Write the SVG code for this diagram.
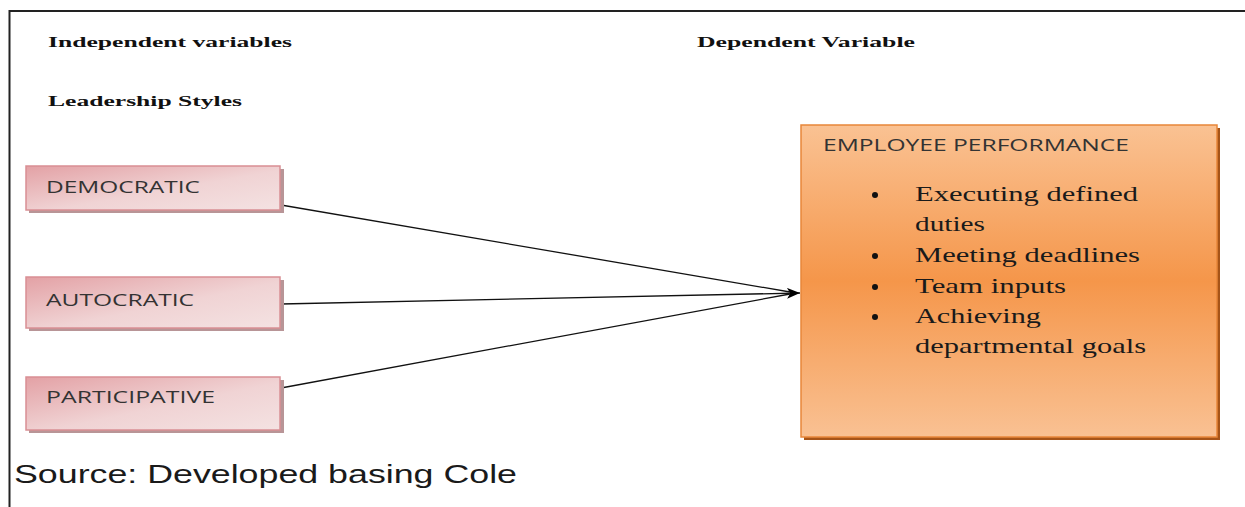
<svg xmlns="http://www.w3.org/2000/svg" width="1245" height="507" viewBox="0 0 1245 507">
<defs>
<linearGradient id="pink" x1="0" y1="0" x2="1" y2="1">
<stop offset="0" stop-color="#e3a1a5"/>
<stop offset="0.55" stop-color="#f0d3d4"/>
<stop offset="1" stop-color="#f4e2e2"/>
</linearGradient>
<linearGradient id="orange" x1="0" y1="0" x2="0" y2="1">
<stop offset="0" stop-color="#fac293"/>
<stop offset="0.5" stop-color="#f5964a"/>
<stop offset="1" stop-color="#f9c193"/>
</linearGradient>
<marker id="arr" viewBox="0 0 12 10" refX="12" refY="5" markerWidth="13" markerHeight="11" markerUnits="userSpaceOnUse" orient="auto">
<path d="M0,0 L12,5 L0,10 L3,5 z" fill="#000"/>
</marker>
<style>
.hdr{font-family:"Liberation Serif","DejaVu Serif",serif;font-weight:bold;font-size:15px;fill:#111}
.lbl{font-family:"Open Sans","Liberation Sans",sans-serif;font-size:17px;fill:#333}
.pink{fill:url(#pink);stroke:#d98f94;stroke-width:1.5}
.pshadow{fill:#b89597}
.item{font-family:"Liberation Serif","DejaVu Serif",serif;font-size:21px;fill:#1a1a1a}
.conn{stroke:#111;stroke-width:1.3;fill:none}
</style>
</defs>
<rect width="1245" height="507" fill="#fff"/>
<path d="M9.5,507 V11 H1245" fill="none" stroke="#222" stroke-width="2"/>
<text class="hdr" x="48" y="47" textLength="244" lengthAdjust="spacingAndGlyphs">Independent variables</text>
<text class="hdr" x="48" y="106" textLength="194" lengthAdjust="spacingAndGlyphs">Leadership Styles</text>
<text class="hdr" x="697" y="47" textLength="218" lengthAdjust="spacingAndGlyphs">Dependent Variable</text>
<g id="connectors">
<line class="conn" x1="281" y1="205" x2="790" y2="292"/>
<line class="conn" x1="281" y1="304" x2="800" y2="293" marker-end="url(#arr)"/>
<line class="conn" x1="281" y1="388" x2="790" y2="294"/>
</g>
<g id="democratic">
<rect class="pshadow" x="29" y="169" width="255" height="44"/>
<rect class="pink" x="26" y="166" width="254" height="44"/>
<text class="lbl" x="46" y="193" textLength="154" lengthAdjust="spacingAndGlyphs">DEMOCRATIC</text>
</g>
<g id="autocratic">
<rect class="pshadow" x="29" y="280" width="255" height="51"/>
<rect class="pink" x="26" y="277" width="254" height="51"/>
<text class="lbl" x="46" y="306" textLength="148" lengthAdjust="spacingAndGlyphs">AUTOCRATIC</text>
</g>
<g id="participative">
<rect class="pshadow" x="29" y="380" width="255" height="53"/>
<rect class="pink" x="26" y="377" width="254" height="53"/>
<text class="lbl" x="46" y="403" textLength="169" lengthAdjust="spacingAndGlyphs">PARTICIPATIVE</text>
</g>
<g id="employee-performance">
<rect x="804" y="128" width="416" height="312" fill="#a65418"/>
<rect x="801" y="125" width="416" height="312" fill="url(#orange)" stroke="#e8873a" stroke-width="1.5"/>
<text class="lbl" x="823" y="151" textLength="306" lengthAdjust="spacingAndGlyphs">EMPLOYEE PERFORMANCE</text>
<g fill="#111">
<circle cx="875" cy="195" r="3"/>
<circle cx="875" cy="256" r="3"/>
<circle cx="875" cy="287" r="3"/>
<circle cx="875" cy="317" r="3"/>
</g>
<text class="item" x="915" y="201" textLength="223" lengthAdjust="spacingAndGlyphs">Executing defined</text>
<text class="item" x="915" y="231" textLength="70" lengthAdjust="spacingAndGlyphs">duties</text>
<text class="item" x="915" y="262" textLength="225" lengthAdjust="spacingAndGlyphs">Meeting deadlines</text>
<text class="item" x="915" y="293" textLength="151" lengthAdjust="spacingAndGlyphs">Team inputs</text>
<text class="item" x="915" y="323" textLength="126" lengthAdjust="spacingAndGlyphs">Achieving</text>
<text class="item" x="915" y="353" textLength="231" lengthAdjust="spacingAndGlyphs">departmental goals</text>
</g>
<text x="14" y="483" font-family="Liberation Sans, Arial, sans-serif" font-size="25" fill="#1a1a1a" textLength="503" lengthAdjust="spacingAndGlyphs">Source: Developed basing Cole</text>
</svg>
